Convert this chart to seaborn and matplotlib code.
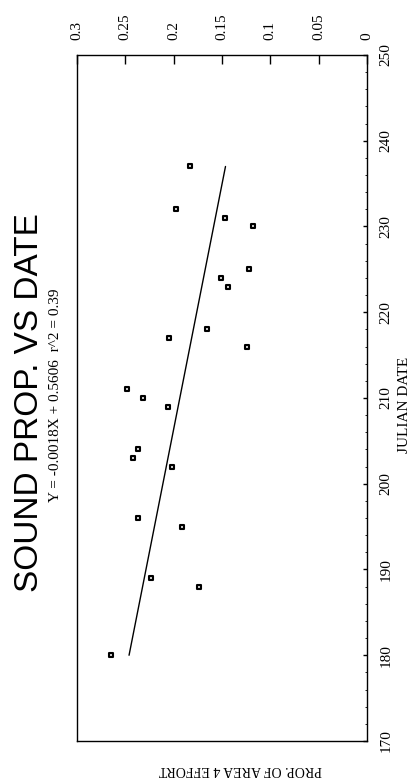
import numpy as np
import matplotlib
matplotlib.use("Agg")
import matplotlib.pyplot as plt
import seaborn as sns

dates = [180, 188, 189, 195, 196, 202, 203, 204, 209, 210, 211,
         216, 217, 218, 223, 224, 225, 230, 231, 232, 237]
props = [0.265, 0.174, 0.223, 0.191, 0.237, 0.202, 0.242, 0.237, 0.206, 0.232, 0.248,
         0.124, 0.205, 0.165, 0.144, 0.151, 0.122, 0.118, 0.147, 0.198, 0.183]

prop_ticks = [0.3, 0.25, 0.2, 0.15, 0.1, 0.05, 0]
prop_labels = ["0.3", "0.25", "0.2", "0.15", "0.1", "0.05", "0"]
date_ticks = [170, 180, 190, 200, 210, 220, 230, 240, 250]

title = "SOUND PROP. VS DATE"
subtitle = "Y = -0.0018X + 0.5606  r^2 = 0.39"

sns.set_style("ticks")
plt.rcParams["font.family"] = ["Liberation Serif", "DejaVu Serif"]
plt.rcParams["text.color"] = "black"

fig = plt.figure(figsize=(4.12, 7.83), dpi=100)
ax = fig.add_axes([77 / 412, 42 / 783, 290 / 412, 686 / 783])

# points: proportion across, date up (the page is turned on its side)
sns.scatterplot(x=props, y=dates, marker="s", s=9, facecolor="#d8d8d8",
                edgecolor="black", linewidth=1.5, ax=ax, zorder=3)

# least squares line over the date range
slope, icpt = np.polyfit(dates, props, 1)
d_fit = np.array([min(dates), max(dates)])
ax.plot(slope * d_fit + icpt, d_fit, color="black", lw=1.0)

ax.set_xlim(0.3, 0)
ax.set_ylim(170, 250)
ax.set_xticks(prop_ticks)
ax.set_xticklabels(prop_labels)
ax.set_yticks(date_ticks)
ax.set_yticks(np.arange(170, 251, 2), minor=True)

ax.xaxis.tick_top()
ax.yaxis.tick_right()
ax.tick_params(axis="x", which="major", direction="in", length=6.5, width=1,
               pad=11, labelsize=11, labelrotation=90, colors="black")
ax.tick_params(axis="y", which="major", direction="in", length=3, width=1,
               pad=9, labelsize=11, labelrotation=90, colors="black")
ax.tick_params(axis="y", which="minor", direction="in", length=1.5, width=0.6,
               colors="black")
for lab in ax.get_yticklabels():
    lab.set_va("center")
for sp in ax.spines.values():
    sp.set_visible(True)
    sp.set_linewidth(1.0)
    sp.set_color("black")

fig.text(30 / 412, 1 - 403 / 783, title, rotation=90, ha="center", va="center",
         fontsize=24, color="black", family=["Liberation Sans", "DejaVu Sans"])
fig.text(56 / 412, 1 - 395 / 783, subtitle, rotation=90, ha="center", va="center",
         fontsize=11, color="black")
fig.text(404 / 412, 1 - 405 / 783, "JULIAN DATE", rotation=90, ha="center",
         va="center", fontsize=11, color="black")
fig.text(240 / 412, 1 - 770 / 783, "PROP. OF AREA 4 EFFORT", rotation=180,
         ha="center", va="center", fontsize=10, color="black")

fig.savefig("out.png", dpi=100)
